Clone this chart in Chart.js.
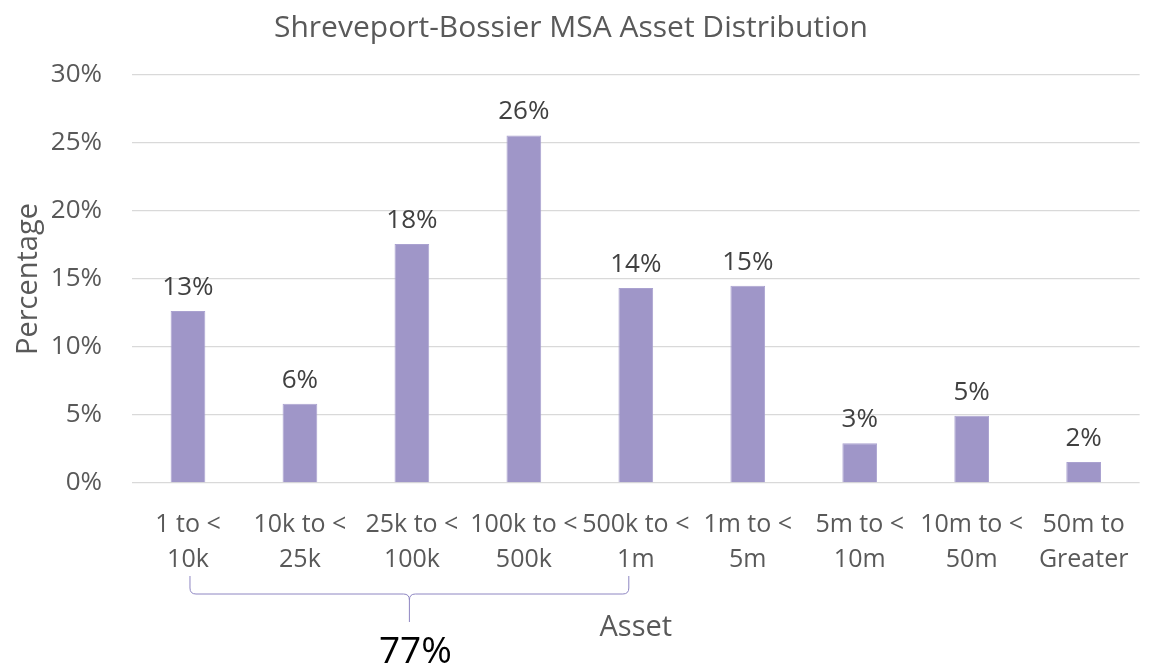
<!DOCTYPE html>
<html>
<head>
<meta charset="utf-8">
<script src="https://cdn.jsdelivr.net/npm/chart.js@4"></script>
<style>
  html, body { margin: 0; padding: 0; background: #fff; }
  #wrap { width: 1153px; height: 669px; }
</style>
</head>
<body>
<div id="wrap"><canvas id="asset-chart"></canvas></div>
<script>
// Data
const categories = [
  ['1 to <', '10k'],
  ['10k to <', '25k'],
  ['25k to <', '100k'],
  ['100k to <', '500k'],
  ['500k to <', '1m'],
  ['1m to <', '5m'],
  ['5m to <', '10m'],
  ['10m to <', '50m'],
  ['50m to', 'Greater']
];
const percentages = [12.65, 5.83, 17.57, 25.56, 14.34, 14.5, 2.92, 4.95, 1.54];
const yTicks = [0, 5, 10, 15, 20, 25, 30];

// Brace under the first five groups
const braceFrom = 0;
const braceTo = 4;
const braceLabel = '77%';

const FONT = "'Open Sans', 'Noto Sans', sans-serif";
const grey = '#595959';

// Draw the percentage above each bar
const barLabels = {
  id: 'barLabels',
  afterDatasetsDraw(chart) {
    const ctx = chart.ctx;
    const meta = chart.getDatasetMeta(0);
    ctx.save();
    ctx.font = '26px ' + FONT;
    ctx.fillStyle = '#404040';
    ctx.textAlign = 'center';
    ctx.textBaseline = 'alphabetic';
    meta.data.forEach((bar, i) => {
      ctx.fillText(Math.round(percentages[i]) + '%', bar.x, bar.y - 16);
    });
    ctx.restore();
  }
};

// Curly brace with the total below the x labels
const brace = {
  id: 'brace',
  afterDraw(chart) {
    const ctx = chart.ctx;
    const x = chart.scales.x;
    const bottom = chart.chartArea.bottom;
    const left = x.getPixelForValue(braceFrom) + 2;
    const right = x.getPixelForValue(braceTo) - 7;
    const mid = (left + right) / 2;
    const top = bottom + 93;
    const line = bottom + 111;
    const tip = bottom + 139;
    const r = 6;
    ctx.save();
    ctx.strokeStyle = '#8e86c2';
    ctx.lineWidth = 1;
    ctx.beginPath();
    ctx.moveTo(left, top);
    ctx.lineTo(left, line - r);
    ctx.quadraticCurveTo(left, line, left + r, line);
    ctx.lineTo(mid - r, line);
    ctx.quadraticCurveTo(mid, line, mid, line + r);
    ctx.lineTo(mid, tip);
    ctx.moveTo(mid, line + r);
    ctx.quadraticCurveTo(mid, line, mid + r, line);
    ctx.lineTo(right - r, line);
    ctx.quadraticCurveTo(right, line, right, line - r);
    ctx.lineTo(right, top);
    ctx.stroke();

    ctx.font = '37px ' + FONT;
    ctx.fillStyle = '#000';
    ctx.textAlign = 'center';
    ctx.textBaseline = 'middle';
    ctx.fillText(braceLabel, mid + 6, bottom + 169);
    ctx.restore();
  }
};

const ctx = document.getElementById('asset-chart').getContext('2d');
const chart = new Chart(ctx, {
  type: 'bar',
  data: {
    labels: categories,
    datasets: [{
      label: 'Percentage',
      data: percentages,
      backgroundColor: '#9f96c8',
      borderColor: '#aaa2d0',
      borderWidth: 1,
      barPercentage: 0.31,
      categoryPercentage: 1.0
    }]
  },
  options: {
    responsive: true,
    maintainAspectRatio: false,
    animation: false,
    layout: { padding: { left: 0, right: 11, top: 0, bottom: 0 } },
    plugins: {
      legend: { display: false },
      tooltip: { enabled: false },
      title: {
        display: true,
        text: 'Shreveport-Bossier MSA Asset Distribution',
        color: grey,
        font: { family: FONT, size: 30, weight: 'normal', lineHeight: 1.2 },
        padding: { top: 10, bottom: 29 }
      }
    },
    scales: {
      x: {
        grid: { display: false, drawTicks: false },
        border: { display: false },
        ticks: {
          color: grey,
          font: { family: FONT, size: 25, lineHeight: 1.4 },
          padding: 24,
          maxRotation: 0,
          autoSkip: false
        },
        title: {
          display: true,
          text: 'Asset',
          color: grey,
          font: { family: FONT, size: 29, lineHeight: 1.2 },
          padding: { top: 0, bottom: 23.6 }
        },
        afterFit(scale) { scale.height = 186; }
      },
      y: {
        min: 0,
        max: 30,
        afterBuildTicks(scale) { scale.ticks = yTicks.map(v => ({ value: v })); },
        grid: { color: '#d9d9d9', drawTicks: false, lineWidth: 1.3 },
        border: { display: false },
        ticks: {
          color: grey,
          font: { family: FONT, size: 26 },
          padding: 30,
          callback: v => v + '%'
        },
        title: {
          display: true,
          text: 'Percentage',
          color: grey,
          font: { family: FONT, size: 29, lineHeight: 1.2 },
          padding: { top: 11, bottom: 0 }
        },
        afterFit(scale) { scale.width = 132; }
      }
    }
  },
  plugins: [barLabels, brace]
});
</script>
</body>
</html>
